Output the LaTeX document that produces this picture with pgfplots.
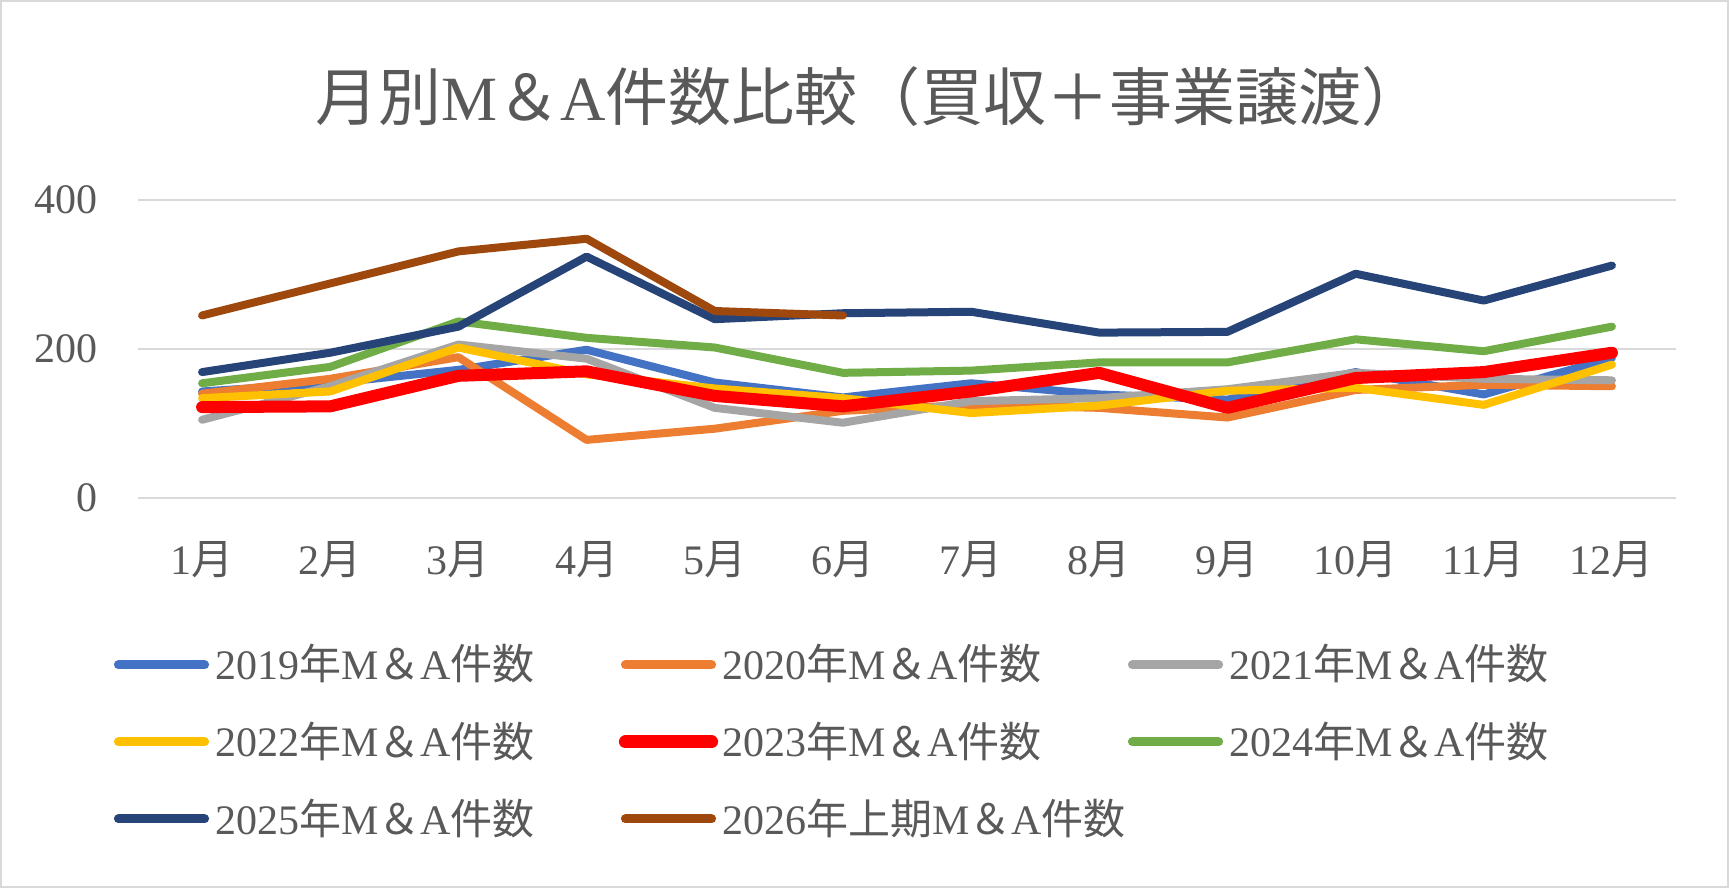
\documentclass[border=0pt]{standalone}
\usepackage{fontspec}
\setmainfont{Liberation Serif}
\newfontfamily\jp{Noto Sans CJK JP}
\usepackage{pgfplots}
\pgfplotsset{compat=1.18}
\definecolor{c19}{HTML}{4472C4}
\definecolor{c20}{HTML}{ED7D31}
\definecolor{c21}{HTML}{A5A5A5}
\definecolor{c22}{HTML}{FFC000}
\definecolor{c23}{HTML}{FF0000}
\definecolor{c24}{HTML}{70AD47}
\definecolor{c25}{HTML}{264478}
\definecolor{c26}{HTML}{9E480E}
\definecolor{gridc}{HTML}{D9D9D9}
\definecolor{txt}{HTML}{595959}
\newcommand\MA{M{\jp ＆}A}
% legend entry: coloured line sample + text, fixed width and height
\newcommand\lt[3]{\makebox[253.5pt][l]{\rule[-11.75pt]{0pt}{38.5pt}\tikz[baseline=0pt]{\path[use as bounding box] (0pt,0pt) rectangle (47.5pt,7.5pt); \draw[#1, line width=#2, line cap=round] (2.2pt,7.5pt) -- (45.3pt,7.5pt);}\hspace{3pt}#3}}
\begin{document}
\begin{tikzpicture}
\useasboundingbox (0,0) rectangle (864.5pt,444pt);
\draw[gridc, line width=1pt] (0.5pt,0.5pt) rectangle (864pt,443.5pt);
\node[txt, font=\fontsize{31.5}{36}\selectfont, inner sep=0pt] at (435pt,395.5pt) {{\jp 月別}\MA{\jp 件数比較（買収＋事業譲渡）}};
\begin{axis}[
  at={(69pt,195pt)}, anchor=south west, scale only axis,
  width=769pt, height=149pt,
  xmin=0.5, xmax=12.5, ymin=0, ymax=400,
  ytick={0,200,400}, xtick={1,...,12},
  xticklabels={1{\jp 月},2{\jp 月},3{\jp 月},4{\jp 月},5{\jp 月},6{\jp 月},7{\jp 月},8{\jp 月},9{\jp 月},10{\jp 月},11{\jp 月},12{\jp 月}},
  axis line style={draw=none},
  ymajorgrids, grid style={gridc, line width=1pt},
  major tick length=0pt, tick style={draw=none},
  tick label style={txt, font=\fontsize{21}{25}\selectfont},
  yticklabel style={anchor=east, inner sep=0pt, xshift=-20pt},
  xticklabel style={anchor=center, inner sep=0pt, yshift=-31pt},
  /pgf/number format/assume math mode=true,
  clip=false,
  legend columns=3,
  legend style={at={(-0.0156,-0.4312)}, anchor=north west, draw=none, fill=none,
    inner sep=0pt, outer sep=0pt, column sep=0pt, row sep=0pt,
    cells={anchor=base west},
    nodes={inner sep=0pt, outer sep=0pt, text depth={}, text height={}, txt, font=\fontsize{21}{25}\selectfont}},
  legend image code/.code={},
  every axis plot/.append style={line cap=round, line join=round, line width=4pt},
]
\addplot[c19] coordinates {(1,143) (2,154) (3,172) (4,199) (5,155) (6,135) (7,154) (8,139) (9,132) (10,169) (11,139) (12,188)};
\addlegendentry{\lt{c19}{4.5pt}{2019{\jp 年}\MA{\jp 件数}}}
\addplot[c20] coordinates {(1,140) (2,160) (3,189) (4,78) (5,93) (6,117) (7,125) (8,121) (9,108) (10,145) (11,152) (12,150)};
\addlegendentry{\lt{c20}{4.5pt}{2020{\jp 年}\MA{\jp 件数}}}
\addplot[c21] coordinates {(1,105) (2,150) (3,206) (4,187) (5,121) (6,101) (7,130) (8,134) (9,146) (10,168) (11,160) (12,158)};
\addlegendentry{\lt{c21}{4.5pt}{2021{\jp 年}\MA{\jp 件数}}}
\addplot[c22] coordinates {(1,134) (2,143) (3,202) (4,166) (5,147) (6,134) (7,114) (8,124) (9,144) (10,148) (11,125) (12,179)};
\addlegendentry{\lt{c22}{4.5pt}{2022{\jp 年}\MA{\jp 件数}}}
\addplot[c23, line width=6pt] coordinates {(1,122) (2,123) (3,164) (4,170) (5,137) (6,123) (7,143) (8,168) (9,121) (10,161) (11,169) (12,195)};
\addlegendentry{\lt{c23}{6.5pt}{2023{\jp 年}\MA{\jp 件数}}}
\addplot[c24] coordinates {(1,154) (2,176) (3,237) (4,215) (5,202) (6,168) (7,171) (8,182) (9,182) (10,213) (11,197) (12,230)};
\addlegendentry{\lt{c24}{4.5pt}{2024{\jp 年}\MA{\jp 件数}}}
\addplot[c25] coordinates {(1,169) (2,195) (3,230) (4,324) (5,240) (6,248) (7,250) (8,222) (9,223) (10,301) (11,265) (12,312)};
\addlegendentry{\lt{c25}{4.5pt}{2025{\jp 年}\MA{\jp 件数}}}
\addplot[c26] coordinates {(1,245) (2,288) (3,331) (4,348) (5,251) (6,245)};
\addlegendentry{\lt{c26}{4.5pt}{2026{\jp 年上期}\MA{\jp 件数}}}
\end{axis}
\end{tikzpicture}
\end{document}
